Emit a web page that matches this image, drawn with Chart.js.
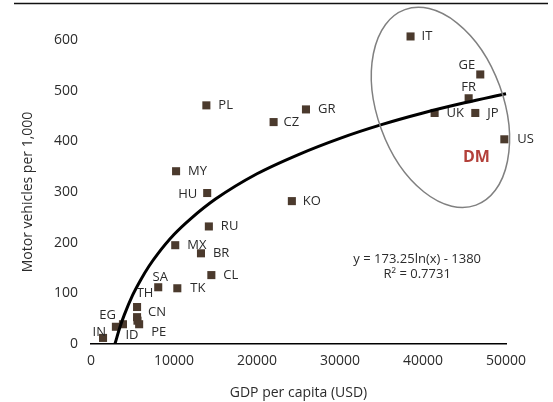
<!DOCTYPE html>
<html>
<head>
<meta charset="utf-8">
<script src="https://cdn.jsdelivr.net/npm/chart.js@4"></script>
<style>
  html, body { margin: 0; padding: 0; background: #fff; }
  #wrap { width: 553px; height: 402px; }
</style>
</head>
<body>
<div id="wrap"><canvas id="chart" width="553" height="402"></canvas></div>
<script>
// Country points
const countries = ['IT','GE','FR','UK','JP','US','GR','CZ','KO','PL','MY','HU','RU','MX','BR','CL','SA','TK','TH','CN','','PE','EG','ID','IN'];
const gdpPerCapita = [38500, 46900, 45500, 41400, 46300, 49800, 25900, 22000, 24200, 13900, 10250, 14000, 14200, 10150, 13250, 14500, 8100, 10400, 5550, 5550, 5600, 5800, 3000, 3850, 1450];
const vehiclesPer1000 = [607, 532, 485, 456, 456, 404, 463, 438, 282, 471, 341, 298, 232, 195, 179, 136, 112, 110, 73, 53, 46, 39, 34, 39, 12];

// Log trendline
const trendX = [2900, 3500, 4000, 5000, 6000, 7000, 8000, 10000, 12000, 15000, 20000, 25000, 30000, 35000, 40000, 45000, 50000];
const trendY = [1, 34, 57, 96, 127, 154, 177, 216, 247, 286, 336, 374, 406, 433, 456, 476, 494];

const xTicks = [0, 10000, 20000, 30000, 40000, 50000];
const yTicks = [0, 100, 200, 300, 400, 500, 600];
const equationLines = ['y = 173.25ln(x) - 1380', 'R² = 0.7731'];
const groupLabel = 'DM';

// label placement next to each marker (px offsets)
const labelPos = {
  IT: ['left', 11, 0], GE: ['right', -5, -9], FR: ['center', 0, -11], UK: ['left', 12, 0],
  JP: ['left', 12, 0], US: ['left', 13, 0], GR: ['left', 12, 0], CZ: ['left', 10, 0],
  KO: ['left', 11, 0], PL: ['left', 12, 0], MY: ['left', 12, 0], HU: ['right', -10, 1],
  RU: ['left', 12, 0], MX: ['left', 12, 0], BR: ['left', 12, 0], CL: ['left', 12, 0],
  SA: ['center', 2, -10], TK: ['left', 13, 0], TH: ['center', 8, -14], CN: ['left', 11, -5],
  PE: ['left', 12, 8], EG: ['right', 0, -11], ID: ['center', 9, 11], IN: ['right', 3, -6]
};

const FONT = '"Open Sans", "Noto Sans", sans-serif';
const TXT = '#2b2b2b';

const extras = {
  id: 'extras',
  afterDatasetsDraw(chart) {
    const ctx = chart.ctx;
    const xs = chart.scales.x, ys = chart.scales.y;
    ctx.save();
    // top rule
    ctx.strokeStyle = '#111';
    ctx.lineWidth = 1.5;
    ctx.beginPath();
    ctx.moveTo(14, 3.5);
    ctx.lineTo(548, 3.5);
    ctx.stroke();

    // country labels
    ctx.font = '13px ' + FONT;
    ctx.fillStyle = TXT;
    ctx.textBaseline = 'middle';
    countries.forEach((c, i) => {
      if (!c) return;
      const p = labelPos[c];
      ctx.textAlign = p[0];
      ctx.fillText(c, xs.getPixelForValue(gdpPerCapita[i]) + p[1], ys.getPixelForValue(vehiclesPer1000[i]) + p[2]);
    });

    // DM ellipse
    ctx.strokeStyle = '#808080';
    ctx.lineWidth = 1.5;
    ctx.beginPath();
    ctx.ellipse(xs.getPixelForValue(42100), ys.getPixelForValue(467), 104, 63, 70 * Math.PI / 180, 0, Math.PI * 2);
    ctx.stroke();

    ctx.font = 'bold 16px ' + FONT;
    ctx.fillStyle = '#b3403a';
    ctx.textAlign = 'center';
    ctx.fillText(groupLabel, xs.getPixelForValue(46440), ys.getPixelForValue(369));

    // equation
    ctx.font = '13px ' + FONT;
    ctx.fillStyle = TXT;
    ctx.fillText(equationLines[0], xs.getPixelForValue(39300), ys.getPixelForValue(168));
    ctx.fillText(equationLines[1], xs.getPixelForValue(39300), ys.getPixelForValue(138));
    ctx.restore();
  }
};

new Chart(document.getElementById('chart'), {
  type: 'scatter',
  data: {
    datasets: [
      {
        label: 'Countries',
        data: gdpPerCapita.map((g, i) => ({ x: g, y: vehiclesPer1000[i] })),
        pointStyle: 'rect',
        pointRadius: 5.7,
        backgroundColor: '#4b3a2d',
        borderWidth: 0,
        order: 1
      },
      {
        label: 'Trend',
        type: 'line',
        data: trendX.map((x, i) => ({ x: x, y: trendY[i] })),
        borderColor: '#000',
        borderWidth: 3,
        pointRadius: 0,
        fill: false,
        cubicInterpolationMode: 'monotone',
        order: 0
      }
    ]
  },
  options: {
    responsive: false,
    animation: false,
    clip: false,
    layout: { padding: { left: 0, right: 47, top: 40, bottom: 0 } },
    plugins: { legend: { display: false }, tooltip: { enabled: false } },
    scales: {
      x: {
        type: 'linear', min: 0, max: 50000,
        afterBuildTicks: s => { s.ticks = xTicks.map(v => ({ value: v })); },
        afterFit: s => { s.height = 58; },
        grid: { display: false, drawTicks: false },
        border: { display: true, color: '#000', width: 1.5 },
        ticks: { color: TXT, font: { family: FONT, size: 14 }, padding: 9, callback: v => String(v) },
        title: { display: true, text: 'GDP per capita (USD)', color: TXT, font: { family: FONT, size: 14 }, padding: { top: 0, bottom: 1 } }
      },
      y: {
        type: 'linear', min: 0, max: 600,
        afterBuildTicks: s => { s.ticks = yTicks.map(v => ({ value: v })); },
        afterFit: s => { s.width = 91; },
        grid: { display: false, drawTicks: false },
        border: { display: false },
        ticks: { color: TXT, font: { family: FONT, size: 14 }, padding: 13, callback: v => String(v) },
        title: { display: true, text: 'Motor vehicles per 1,000', color: TXT, font: { family: FONT, size: 14 }, padding: { top: 20, bottom: 0 } }
      }
    }
  },
  plugins: [extras]
});
</script>
</body>
</html>
